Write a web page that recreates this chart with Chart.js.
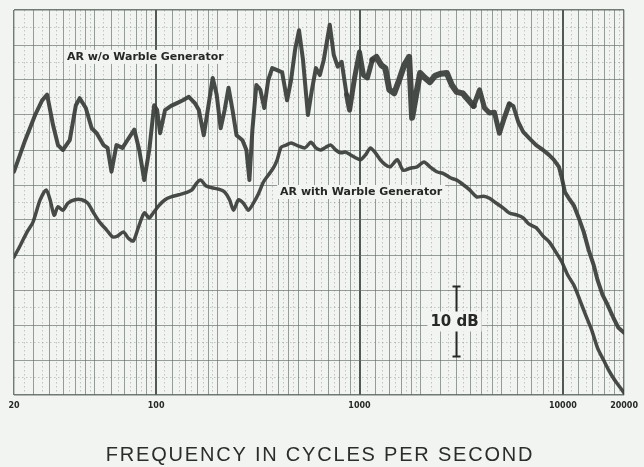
<!DOCTYPE html>
<html>
<head>
<meta charset="utf-8">
<script src="https://cdn.jsdelivr.net/npm/chart.js@4.4.1/dist/chart.umd.min.js"></script>
<style>
  html, body { margin: 0; padding: 0; background: #f2f4f1; }
  canvas { display: block; }
</style>
</head>
<body>
<canvas id="response" width="644" height="467"></canvas>
<script>
// Loudspeaker response: relative sound level (dB) against frequency (Hz)

// Response without the warble generator (pure tone sweep)
const noWarbleHz = [
  20, 22.7, 25.4, 27.5, 29.1, 31.1, 32.9, 34.8, 37.6, 40.3,
  42.1, 45.1, 48.2, 51.0, 55.1, 57.7, 60.3, 63.8, 68.3, 72.2,
  78.1, 82.6, 87.4, 92.5, 97.8, 101.1, 104.6, 110.6, 118.4, 126.6,
  135.4, 144.9, 155.0, 162.2, 171.5, 179.4, 189.8, 198.5, 207.6, 217.1,
  227.0, 237.5, 248.4, 265.8, 277.9, 287.5, 297.4, 311.0, 325.3, 340.2,
  355.8, 372.3, 393.7, 416.5, 440.5, 460.8, 482.0, 504.1, 527.3, 557.7,
  583.4, 610.2, 638.2, 667.5, 714.1, 747.0, 781.2, 817.0, 864.2, 893.7,
  945.6, 1000, 1046, 1094, 1157, 1211, 1280, 1340, 1401, 1482,
  1567, 1658, 1754, 1814, 1898, 1985, 2099, 2220, 2349, 2512,
  2687, 2843, 3007, 3216, 3441, 3640, 3894, 4119, 4356, 4608,
  4874, 5155, 5453, 5703, 6034, 6382, 6827, 7386, 7990, 8545,
  9038, 9562, 9888, 10230, 10699, 11317, 11972, 12663, 13394, 14165,
  14818, 15672, 16578, 17735, 18763, 20000
];
const noWarbleDb = [
  31.9, 36.4, 40.0, 42.1, 42.9, 38.6, 35.7, 35.0, 36.4, 41.4,
  42.4, 41.0, 38.1, 37.4, 35.7, 35.3, 31.9, 35.7, 35.3, 36.4,
  37.9, 35.0, 30.7, 35.0, 41.4, 40.7, 37.4, 40.7, 41.3, 41.7,
  42.1, 42.6, 41.7, 40.7, 37.1, 40.7, 45.3, 42.9, 38.1, 40.7,
  43.9, 40.7, 37.1, 36.4, 35.0, 30.7, 37.9, 44.3, 43.6, 41.0,
  45.0, 46.7, 46.4, 46.1, 42.1, 45.0, 49.3, 52.1, 47.9, 40.0,
  43.6, 46.7, 45.7, 47.9, 52.9, 48.6, 46.9, 47.6, 42.9, 40.7,
  45.3, 49.0, 45.7, 45.3, 47.9, 48.3, 47.1, 46.7, 43.6, 43.1,
  45.0, 47.1, 48.3, 39.6, 42.9, 46.0, 45.3, 44.7, 45.6, 45.9,
  46.0, 44.3, 43.3, 43.1, 42.1, 41.3, 43.6, 41.0, 40.3, 40.4,
  37.4, 39.6, 41.6, 41.3, 39.0, 37.6, 36.7, 35.7, 35.0, 34.3,
  33.6, 32.6, 31.0, 29.0, 28.1, 27.1, 25.3, 23.3, 20.7, 18.6,
  16.4, 14.3, 12.9, 11.0, 9.6, 8.9
];

// Response with the warble generator (frequency-modulated tone)
const warbleHz = [
  20, 21.5, 23.2, 24.8, 26.9, 28.8, 30.1, 31.5, 32.9, 34.8,
  36.8, 39.8, 43.1, 46.1, 49.3, 52.7, 57.0, 61.0, 64.5, 69.0,
  73.0, 77.2, 81.7, 87.4, 92.5, 96.7, 103.4, 110.6, 118.4, 129.5,
  140.1, 149.9, 158.5, 165.8, 175.4, 187.7, 202.9, 217.1, 229.6, 240.2,
  254.1, 268.7, 284.3, 300.7, 318.1, 336.5, 355.8, 376.5, 393.7, 411.9,
  435.6, 460.8, 498.5, 539.2, 576.9, 610.2, 645.5, 682.7, 722.2, 763.9,
  807.8, 854.5, 903.9, 956.2, 1011, 1070, 1132, 1197, 1266, 1340,
  1417, 1533, 1640, 1774, 1919, 2076, 2220, 2402, 2599, 2811,
  3007, 3253, 3480, 3765, 4073, 4356, 4713, 5097, 5453, 5967,
  6382, 6827, 7386, 7990, 8545, 9245, 9888, 10579, 11317, 12107,
  12948, 13852, 14818, 15850, 16767, 17735, 18763, 20000
];
const warbleDb = [
  19.7, 21.4, 23.3, 24.7, 27.9, 29.3, 27.9, 25.7, 26.9, 26.4,
  27.4, 27.9, 27.9, 27.4, 26.0, 24.7, 23.6, 22.6, 22.7, 23.3,
  22.4, 22.0, 23.9, 26.0, 25.3, 26.0, 27.1, 27.9, 28.3, 28.6,
  28.9, 29.3, 30.3, 30.7, 29.9, 29.6, 29.4, 29.0, 27.9, 26.4,
  27.9, 27.4, 26.4, 27.4, 28.7, 30.4, 31.4, 32.4, 33.6, 35.4,
  35.7, 36.0, 35.6, 35.3, 36.1, 35.3, 35.0, 35.4, 35.7, 35.0,
  34.6, 34.7, 34.3, 33.9, 33.6, 34.3, 35.3, 34.6, 33.6, 32.9,
  32.6, 33.6, 32.1, 32.4, 32.6, 33.3, 32.6, 31.9, 31.6, 31.0,
  30.7, 30.0, 29.3, 28.3, 28.4, 28.1, 27.4, 26.7, 26.0, 25.7,
  25.3, 24.4, 23.9, 22.7, 21.9, 20.4, 19.0, 17.1, 15.7, 13.6,
  11.4, 9.3, 6.7, 5.0, 3.6, 2.4, 1.4, 0.3
];

const freqLabels = [20, 100, 1000, 10000, 20000];
const seriesNames = ['AR w/o Warble Generator', 'AR with Warble Generator'];
const captionAt = [[36.4, 48.3], [407, 29.0]];   // [Hz, dB] where each caption starts
const scaleBar = { hz: 3000, fromDb: 5.5, toDb: 15.5, text: '10 dB' };
const xTitle = 'FREQUENCY IN CYCLES PER SECOND';
const dbRange = [0, 55];

const paper = '#f2f4f1';
const ink = '#262826';
const trace = 'rgba(58,61,58,0.93)';

const toPoints = (xs, ys) => xs.map((x, i) => ({ x, y: ys[i] }));

// The pure-tone trace is a broad, rapidly fluctuating band in the upper mids
function bandWidth(hz) {
  if (hz >= 1150 && hz <= 3600) return 6;
  if (hz >= 850 && hz <= 5500) return 5;
  return 4;
}

// Log-paper ruling: decade lines, regular lines and dotted fine lines
function rulingX() {
  const out = [];
  for (const base of [10, 100, 1000, 10000]) {
    const steps = [];
    for (let k = 10; k < 20; k++) steps.push([k / 10, k % 2 === 0]);
    for (let k = 8; k < 20; k++) steps.push([k / 4, k % 2 === 0]);
    for (let k = 10; k < 20; k++) steps.push([k / 2, k % 2 === 0]);
    for (const [m, solid] of steps) {
      const v = Math.round(m * base * 1000) / 1000;
      if (v < 20 || v > 20000) continue;
      let kind = m === 1 ? 'decade' : (solid ? 'solid' : 'fine');
      if (v === 20 || v === 20000) kind = 'edge';
      out.push({ value: v, kind });
    }
  }
  return out.sort((a, b) => a.value - b.value);
}
function rulingY() {
  const out = [];
  for (let v = dbRange[0]; v <= dbRange[1]; v += 2.5) {
    let kind = v % 5 === 0 ? 'solid' : 'fine';
    if (v === dbRange[0] || v === dbRange[1]) kind = 'edge';
    out.push({ value: v, kind });
  }
  return out;
}

const lineColor = k => k === 'decade' ? 'rgba(62,72,65,0.9)'
  : k === 'edge' ? 'rgba(90,100,93,0.85)'
  : k === 'solid' ? 'rgba(100,110,103,0.66)'
  : 'rgba(105,115,108,0.36)';
const lineWidth = k => k === 'decade' ? 2 : (k === 'edge' ? 1.4 : 1);
const lineDash = k => k === 'fine' ? [1.5, 2.5] : [];

const annotate = {
  id: 'annotate',
  beforeDraw(chart) {
    const { ctx, width, height } = chart;
    ctx.save();
    ctx.fillStyle = paper;
    ctx.fillRect(0, 0, width, height);
    ctx.restore();
  },
  afterDatasetsDraw(chart) {
    const { ctx, chartArea, scales: { x, y } } = chart;
    ctx.save();

    // curve captions
    ctx.font = "bold 11px 'DejaVu Sans'";
    ctx.textAlign = 'left';
    ctx.textBaseline = 'middle';
    captionAt.forEach(([hz, db], i) => {
      const px = x.getPixelForValue(hz);
      const py = y.getPixelForValue(db);
      const w = ctx.measureText(seriesNames[i]).width;
      ctx.fillStyle = paper;
      ctx.fillRect(px - 3, py - 7, w + 6, 14);
      ctx.fillStyle = ink;
      ctx.fillText(seriesNames[i], px, py);
    });

    // 10 dB scale bar
    const bx = x.getPixelForValue(scaleBar.hz);
    const top = y.getPixelForValue(scaleBar.toDb);
    const bot = y.getPixelForValue(scaleBar.fromDb);
    const mid = (top + bot) / 2;
    ctx.strokeStyle = ink;
    ctx.lineWidth = 2;
    ctx.beginPath();
    ctx.moveTo(bx, top); ctx.lineTo(bx, bot);
    ctx.moveTo(bx - 4, top); ctx.lineTo(bx + 4, top);
    ctx.moveTo(bx - 4, bot); ctx.lineTo(bx + 4, bot);
    ctx.stroke();
    ctx.font = "bold 15px 'DejaVu Sans'";
    ctx.textAlign = 'center';
    const tw = ctx.measureText(scaleBar.text).width;
    ctx.fillStyle = paper;
    ctx.fillRect(bx - 2 - tw / 2 - 3, mid - 10, tw + 6, 20);
    ctx.fillStyle = ink;
    ctx.fillText(scaleBar.text, bx - 2, mid + 1);

    // axis title
    ctx.font = "20px 'Liberation Sans'";
    ctx.letterSpacing = '1.8px';
    ctx.fillStyle = '#2b2d2b';
    ctx.fillText(xTitle, (chartArea.left + chartArea.right) / 2 + 1, chartArea.bottom + 60);
    ctx.letterSpacing = '0px';
    ctx.restore();
  }
};

new Chart(document.getElementById('response'), {
  type: 'line',
  data: {
    datasets: [
      {
        label: seriesNames[0],
        data: toPoints(noWarbleHz, noWarbleDb),
        borderColor: trace,
        borderWidth: 4,
        segment: { borderWidth: c => bandWidth((c.p0.parsed.x + c.p1.parsed.x) / 2) },
        pointRadius: 0,
        tension: 0,
        borderJoinStyle: 'round',
        borderCapStyle: 'round'
      },
      {
        label: seriesNames[1],
        data: toPoints(warbleHz, warbleDb),
        borderColor: trace,
        borderWidth: 3.5,
        pointRadius: 0,
        tension: 0.25,
        borderJoinStyle: 'round',
        borderCapStyle: 'round'
      }
    ]
  },
  options: {
    responsive: false,
    animation: false,
    devicePixelRatio: 1,
    layout: { padding: { left: 14, right: 16, top: 10, bottom: 0 } },
    plugins: { legend: { display: false }, tooltip: { enabled: false }, title: { display: false } },
    scales: {
      x: {
        type: 'logarithmic',
        min: 20,
        max: 20000,
        afterBuildTicks: s => { s.ticks = rulingX(); },
        afterFit: s => { s.height = 72; },
        grid: {
          drawTicks: false,
          color: c => lineColor(c.tick && c.tick.kind),
          lineWidth: c => lineWidth(c.tick && c.tick.kind)
        },
        border: { display: false, dash: c => lineDash(c.tick && c.tick.kind) },
        ticks: {
          autoSkip: false,
          maxRotation: 0,
          padding: 6,
          color: ink,
          font: { family: 'DejaVu Sans', size: 8, weight: 'bold' },
          callback: v => freqLabels.includes(v) ? String(v) : ''
        }
      },
      y: {
        type: 'linear',
        min: dbRange[0],
        max: dbRange[1],
        afterBuildTicks: s => { s.ticks = rulingY(); },
        afterFit: s => { s.width = 0; },
        grid: {
          drawTicks: false,
          color: c => lineColor(c.tick && c.tick.kind),
          lineWidth: c => lineWidth(c.tick && c.tick.kind)
        },
        border: { display: false, dash: c => lineDash(c.tick && c.tick.kind) },
        ticks: { display: false }
      }
    }
  },
  plugins: [annotate]
});
</script>
</body>
</html>
